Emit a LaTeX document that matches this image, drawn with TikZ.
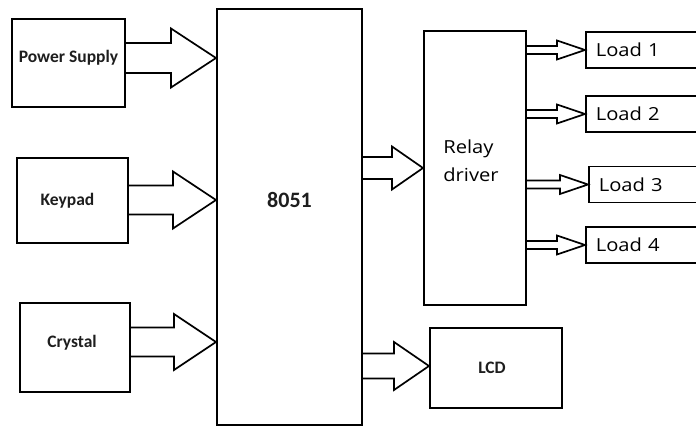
\documentclass[tikz,border=0pt]{standalone}
\usepackage{fontspec}
\setmainfont{Carlito}
\newfontfamily\loadfont{Open Sans}[FakeStretch=1.12]
\usetikzlibrary{positioning,calc}
\definecolor{Ink}{HTML}{1E1E1E}
% hollow block arrow: source, target, y level, shaft half, head half, head length
\newcommand{\hollowarrow}[6]{%
  \draw[blockarr] ($(#1.east|-0,#3)+(0,#4)$) -- ($(#2.west|-0,#3)+(-#6,#4)$)
    -- ($(#2.west|-0,#3)+(-#6,#5)$) -- (#2.west|-0,#3)
    -- ($(#2.west|-0,#3)+(-#6,-#5)$) -- ($(#2.west|-0,#3)+(-#6,-#4)$)
    -- ($(#1.east|-0,#3)+(0,-#4)$);}
\newcommand{\up}[2]{\raisebox{#1}[\height][\depth]{#2}}
\tikzset{
  unit/.style={
    draw=black, line width=2pt, inner sep=0pt, text=Ink,
    font=\fontsize{17.5}{20}\selectfont\bfseries
  },
  relaytext/.style={align=left,text=black,font=\loadfont\fontsize{18}{28}\selectfont},
  loadbox/.style={
    draw=black, line width=1.7pt, anchor=west, minimum height=36,
    text width=120pt, inner xsep=10pt, inner ysep=0pt, align=left,
    font=\loadfont\fontsize{18}{20}\selectfont
  },
  blockarr/.style={draw=black, line width=1.7pt, line join=miter}
}
\begin{document}
\begin{tikzpicture}[x=1pt,y=-1pt]
  \clip (0,0) rectangle (696,427);
  \fill[white] (0,0) rectangle (696,427);
  % inputs
  \node[unit,minimum width=113,minimum height=88] (ps) at (68.5,63) {\up{5pt}{Power Supply}};
  \node[unit,minimum width=111,minimum height=85] (kp) at (72.5,200.5) {\hspace*{-10pt}Keypad};
  \node[unit,minimum width=110,minimum height=89] (cr) at (75,347.5) {\up{5pt}{\hspace*{-6pt}Crystal}};
  % controller
  \node[unit,minimum width=145,minimum height=416,
    label={[font=\fontsize{22}{24}\selectfont\bfseries,text=Ink,yshift=17pt]center:8051}] (mcu) at (289.5,217) {};
  % outputs
  \node[unit,minimum width=102,minimum height=274,
    label={[relaytext,xshift=-4pt,yshift=7pt]center:{Relay\\driver}}] (relay) at (475,168) {};
  \node[unit,minimum width=132,minimum height=80] (lcd) at (496,368) {\hspace*{-8pt}LCD};
  \node[loadbox] (load1) at (585,50) {Load 1};
  \node[loadbox] (load2) at (585,114) {Load 2};
  \node[loadbox] (load3) at (588,184.5) {Load 3};
  \node[loadbox] (load4) at (585,245) {Load 4};
  % connectors
  \hollowarrow{ps}{mcu}{58}{15}{29.5}{45}
  \hollowarrow{kp}{mcu}{200}{14.5}{28.5}{43}
  \hollowarrow{cr}{mcu}{342}{14.5}{28}{42}
  \hollowarrow{mcu}{relay}{168}{11}{21.5}{31}
  \hollowarrow{mcu}{lcd}{366}{12.5}{24}{35}
  \foreach \n/\y in {1/50,2/114,3/184.5,4/245}
    \hollowarrow{relay}{load\n}{\y}{4}{9.5}{28};
\end{tikzpicture}
\end{document}
